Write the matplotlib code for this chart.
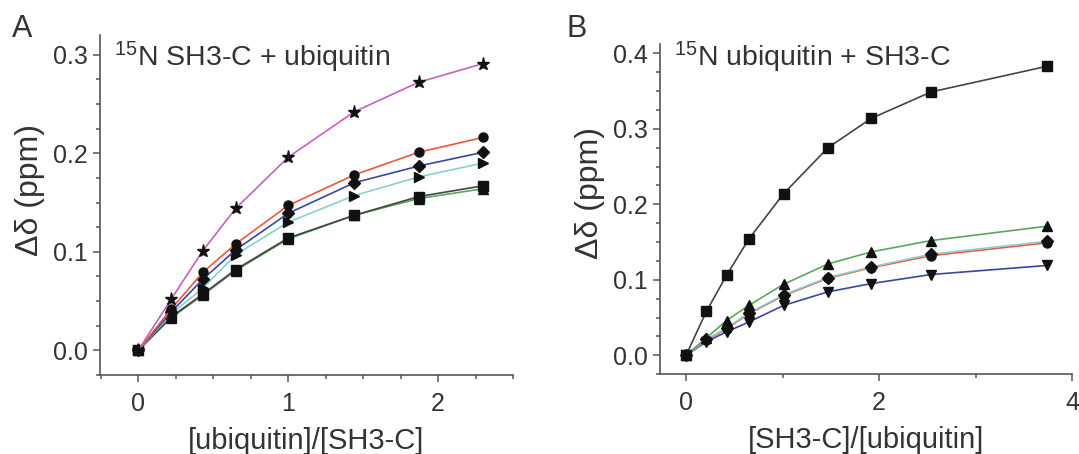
import matplotlib.pyplot as plt
from matplotlib.ticker import MultipleLocator

plt.rcParams['font.family'] = ['Liberation Sans', 'DejaVu Sans']
plt.rcParams['mathtext.fontset'] = 'custom'
plt.rcParams['mathtext.rm'] = 'Liberation Sans'
plt.rcParams['mathtext.it'] = 'Liberation Sans:italic'

TXT = '#333333'
AX = '#555555'

# --- panel A: 15N SH3-C titrated with ubiquitin ---
ratio_a = [0, 0.22, 0.43, 0.65, 1.0, 1.44, 1.87, 2.3]
a_star = [0, 0.052, 0.101, 0.144, 0.196, 0.242, 0.272, 0.291]
a_circle = [0, 0.042, 0.079, 0.108, 0.147, 0.178, 0.201, 0.216]
a_diamond = [0, 0.039, 0.072, 0.102, 0.139, 0.170, 0.187, 0.201]
a_rtri = [0, 0.037, 0.063, 0.097, 0.130, 0.157, 0.176, 0.190]
a_square = [0, 0.034, 0.057, 0.082, 0.114, 0.137, 0.156, 0.167]
a_utri = [0, 0.033, 0.056, 0.081, 0.113, 0.137, 0.154, 0.164]

# --- panel B: 15N ubiquitin titrated with SH3-C ---
ratio_b = [0, 0.21, 0.42, 0.65, 1.01, 1.47, 1.92, 2.54, 3.74]
b_square = [0, 0.058, 0.106, 0.154, 0.214, 0.275, 0.314, 0.349, 0.383]
b_utri = [0, 0.023, 0.046, 0.066, 0.094, 0.121, 0.137, 0.152, 0.171]
b_circle = [0, 0.020, 0.035, 0.055, 0.079, 0.102, 0.116, 0.132, 0.149]
b_diamond = [0, 0.021, 0.036, 0.056, 0.080, 0.103, 0.117, 0.134, 0.151]
b_dtri = [0, 0.018, 0.031, 0.044, 0.066, 0.084, 0.095, 0.107, 0.119]

series_a = [
    (a_utri, '^', '#5aa85a'),
    (a_square, 's', '#444444'),
    (a_rtri, '>', '#88d0d0'),
    (a_diamond, 'D', '#3a45a8'),
    (a_circle, 'o', '#f0553a'),
    (a_star, '*', '#c860c0'),
]
series_b = [
    (b_dtri, 'v', '#3a45a8'),
    (b_circle, 'o', '#f0553a'),
    (b_diamond, 'D', '#88d0d0'),
    (b_utri, '^', '#5aa85a'),
    (b_square, 's', '#444444'),
]

fig = plt.figure(figsize=(10.79, 4.54), dpi=100)
ax1 = fig.add_axes([0.0927, 0.174, 0.3828, 0.749])
ax2 = fig.add_axes([0.6117, 0.176, 0.3818, 0.727])


def style(ax):
    for s in ['top', 'right']:
        ax.spines[s].set_visible(False)
    for s in ['left', 'bottom']:
        ax.spines[s].set_color(AX)
        ax.spines[s].set_linewidth(1.2)
    ax.tick_params(which='major', length=5, width=1.1, color=AX, labelsize=18,
                   labelcolor=TXT, pad=4)
    ax.tick_params(which='minor', length=3, width=1.1, color=AX)
    ax.tick_params(axis='x', which='major', pad=7)


for ys, m, c in series_a:
    ms = 9.5 if m == '*' else 6.5
    ax1.plot(ratio_a, ys, color=c, lw=1.2, marker=m, ms=ms, mfc='#111111',
             mec='#111111')
ax1.set_xlim(-0.255, 2.5)
ax1.set_ylim(-0.025, 0.32)
ax1.xaxis.set_major_locator(MultipleLocator(1))
ax1.xaxis.set_minor_locator(MultipleLocator(0.25))
ax1.yaxis.set_minor_locator(MultipleLocator(0.025))
ax1.set_yticks([0, 0.1, 0.2, 0.3])
ax1.set_yticklabels(['0.0', '0.1', '0.2', '0.3'])
style(ax1)
ax1.set_xlabel('[ubiquitin]/[SH3-C]', fontsize=21, color=TXT, labelpad=8)
ax1.set_ylabel('Δδ (ppm)', fontsize=23, color=TXT)
ax1.yaxis.set_label_coords(-0.133, 0.545)
ax1.text(0.035, 0.985, '$^{15}$N SH3-C + ubiquitin', transform=ax1.transAxes,
         fontsize=20.5, color=TXT, va='top', ha='left')

for ys, m, c in series_b:
    ax2.plot(ratio_b, ys, color=c, lw=1.2, marker=m, ms=6.5, mfc='#111111',
             mec='#111111')
ax2.set_xlim(-0.27, 4.0)
ax2.set_ylim(-0.025, 0.4125)
ax2.xaxis.set_major_locator(MultipleLocator(2))
ax2.xaxis.set_minor_locator(MultipleLocator(1))
ax2.yaxis.set_minor_locator(MultipleLocator(0.025))
ax2.set_yticks([0, 0.1, 0.2, 0.3, 0.4])
ax2.set_yticklabels(['0.0', '0.1', '0.2', '0.3', '0.4'])
style(ax2)
ax2.set_xlabel('[SH3-C]/[ubiquitin]', fontsize=21, color=TXT, labelpad=8)
ax2.set_ylabel('Δδ (ppm)', fontsize=23, color=TXT)
ax2.yaxis.set_label_coords(-0.133, 0.55)
ax2.text(0.035, 1.013, '$^{15}$N ubiquitin + SH3-C', transform=ax2.transAxes,
         fontsize=20.5, color=TXT, va='top', ha='left')

fig.text(0.011, 0.97, 'A', fontsize=22, color=TXT, va='top')
fig.text(0.525, 0.97, 'B', fontsize=22, color=TXT, va='top')

fig.savefig('out.png', dpi=100)
